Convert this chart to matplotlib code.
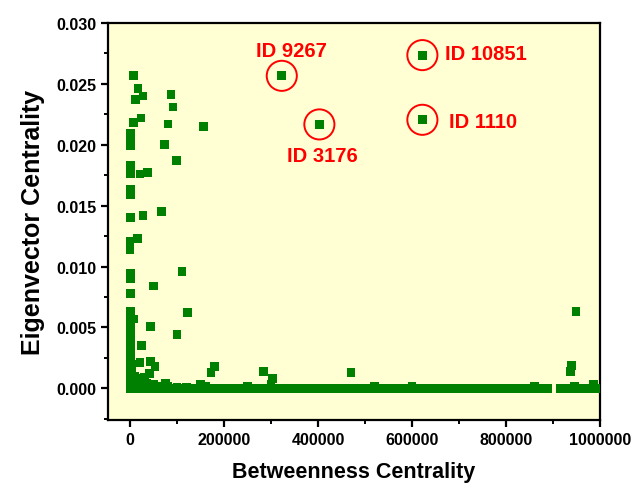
import matplotlib
matplotlib.use("Agg")
import matplotlib.pyplot as plt
from matplotlib.ticker import MultipleLocator, FormatStrFormatter

plt.rcParams['font.family'] = ['Liberation Sans', 'DejaVu Sans']
plt.rcParams['font.weight'] = 'bold'

# scattered nodes (betweenness, eigenvector)
scatter_x = [8000, 17000, 27700, 12100, 87200, 91500, 23400, 7100, 80900, 156800,
             1000, 1000, 1500, 73000, 98500, 500, 1500, 21300, 36900, 1000,
             1000, 1500, 27700, 66700, 0, 0, 15600, 1000, 1000, 110600,
             49600, 1000, 7000, 122700, 44000, 100000, 24000, 21300, 44000, 53200,
             41000, 23400, 179400, 172400, 283700, 303600, 470300, 949100, 940000, 937800,
             986000]
scatter_y = [0.0257, 0.0246, 0.0240, 0.0237, 0.0241, 0.0231, 0.0222, 0.0218, 0.0217, 0.0215,
             0.0209, 0.0205, 0.0199, 0.0200, 0.0187, 0.0183, 0.0176, 0.0176, 0.0177, 0.0163,
             0.0159, 0.0140, 0.0142, 0.0145, 0.0121, 0.0114, 0.0123, 0.0094, 0.0090, 0.0096,
             0.0084, 0.0078, 0.0057, 0.0062, 0.0051, 0.0044, 0.0035, 0.0021, 0.0022, 0.0018,
             0.0012, 0.0008, 0.0018, 0.0013, 0.0014, 0.0008, 0.0013, 0.0063, 0.0019, 0.0014,
             0.0003]

# dense column of nodes with tiny betweenness
column_x = [1500, 1500, 1500, 1500, 1500, 1500, 1500, 1500, 1500, 1500, 1500, 1500, 1500,
            4000, 4000, 4000, 4000, 4000]
column_y = [0.0063, 0.0058, 0.0053, 0.0048, 0.0043, 0.0038, 0.0033, 0.0028, 0.0023, 0.0018,
            0.0013, 0.0008, 0.0003, 0.0020, 0.0015, 0.0010, 0.0005, 0.0001]

# small cluster just above the baseline
cluster_x = [10000, 15000, 30000, 12000, 35000, 50000, 65000, 80000, 100000, 120000, 160000,
             75000, 150000, 250000, 300000, 520000, 600000, 860000, 945000]
cluster_y = [0.0010, 0.0006, 0.0009, 0.0003, 0.0004, 0.0003, 0.0002, 0.0002, 0.0001, 0.0001, 0.0002,
             0.0004, 0.0003, 0.0002, 0.0003, 0.0002, 0.0002, 0.0002, 0.0002]

# nodes lying on the zero line
baseline_x = [0, 5000, 12000, 20000, 30000, 41000, 52000, 63000, 75000, 86000, 98000,
              110000, 121000, 133000, 145000, 157000, 168000, 180000, 192000, 204000, 216000,
              228000, 240000, 251000, 263000, 275000, 287000, 299000, 311000, 322000, 334000,
              346000, 358000, 370000, 381000, 393000, 405000, 417000, 429000, 440000, 452000,
              464000, 476000, 488000, 499000, 511000, 523000, 535000, 547000, 558000, 570000,
              582000, 594000, 606000, 617000, 629000, 641000, 653000, 665000, 676000, 688000,
              700000, 712000, 724000, 735000, 747000, 759000, 771000, 783000, 794000, 806000,
              818000, 830000, 842000, 853000, 865000, 877000, 889000, 916000, 934000, 945000,
              957000, 968000, 980000, 992000]
baseline_y = [0.0] * len(baseline_x)

# highlighted nodes
hl_labels = ["ID 9267", "ID 3176", "ID 10851", "ID 1110"]
hl_x = [322800, 402800, 622000, 622000]
hl_y = [0.02566, 0.02167, 0.02736, 0.02205]

green = '#008000'
red = '#FF0000'

fig = plt.figure(figsize=(6.44, 4.89), dpi=100)
ax = fig.add_axes([0.1677, 0.139, 0.764, 0.812])
ax.set_facecolor('#FFFFD3')

ms = 40
for xs, ys in [(baseline_x, baseline_y), (cluster_x, cluster_y),
               (column_x, column_y), (scatter_x, scatter_y), (hl_x, hl_y)]:
    ax.scatter(xs, ys, s=ms, marker='s', color=green, edgecolors='none', zorder=3)

# red circles round the highlighted nodes
ax.scatter(hl_x, hl_y, s=470, marker='o', facecolors='none', edgecolors=red,
           linewidths=1.4, zorder=4)

offsets = [((7, 18.5), 'center'), ((2, -22.5), 'center'),
           ((16, 1), 'left'), ((19, -1), 'left')]
for lab, x, y, (off, ha) in zip(hl_labels, hl_x, hl_y, offsets):
    ax.annotate(lab, (x, y), xytext=off, textcoords='offset points',
                ha=ha, va='center', color=red, fontsize=14.5, fontweight='bold')

ax.set_xlim(-47000, 1000000)
ax.set_ylim(-0.0026, 0.030)
ax.xaxis.set_major_locator(MultipleLocator(200000))
ax.xaxis.set_minor_locator(MultipleLocator(100000))
ax.yaxis.set_major_locator(MultipleLocator(0.005))
ax.yaxis.set_minor_locator(MultipleLocator(0.0025))
ax.xaxis.set_major_formatter(FormatStrFormatter('%d'))
ax.yaxis.set_major_formatter(FormatStrFormatter('%.3f'))

for sp in ax.spines.values():
    sp.set_linewidth(1.6)
ax.tick_params(which='major', direction='out', length=5, width=1.6, labelsize=11.5)
ax.tick_params(which='minor', direction='out', length=3, width=1.4)
for t in ax.get_xticklabels() + ax.get_yticklabels():
    t.set_fontweight('bold')

ax.set_xlabel('Betweenness Centrality', fontsize=15.5, fontweight='bold', labelpad=10)
ax.set_ylabel('Eigenvector Centrality', fontsize=18, fontweight='bold', labelpad=8)

fig.savefig('out.png', dpi=100)
